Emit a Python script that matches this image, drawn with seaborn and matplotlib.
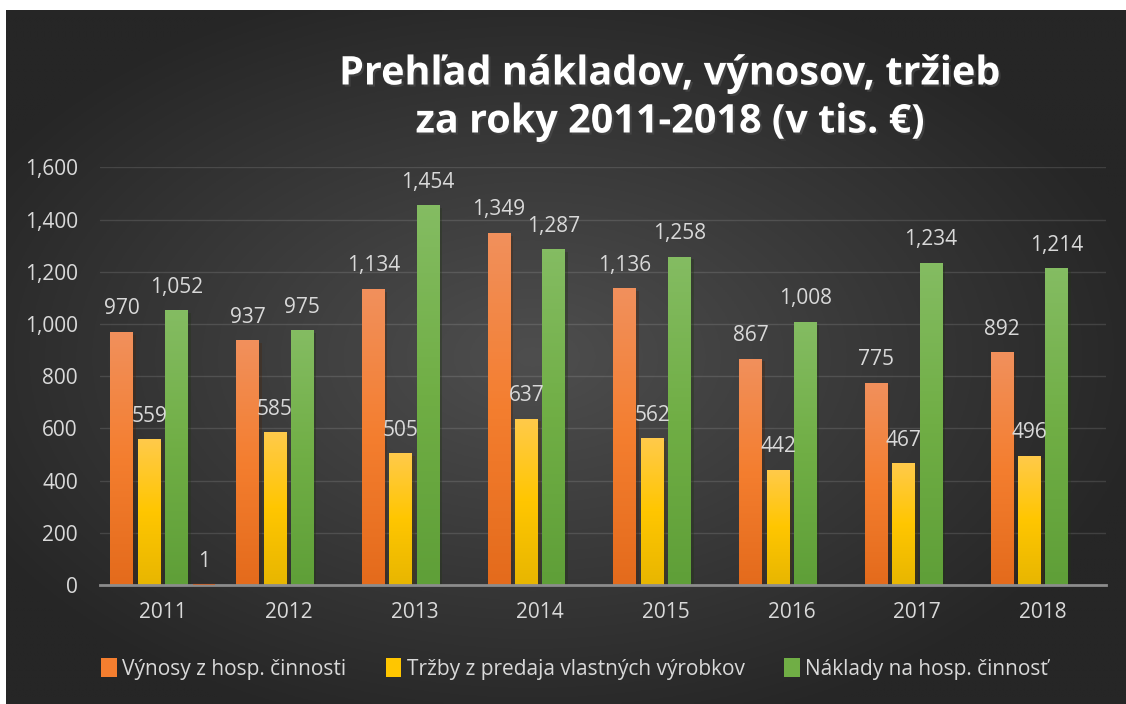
import numpy as np
import pandas as pd
import seaborn as sns
import matplotlib.pyplot as plt
import matplotlib.patheffects as pe
from matplotlib.colors import LinearSegmentedColormap, to_rgb
from matplotlib.patches import Patch

# data (v tis. €)
roky = ['2011', '2012', '2013', '2014', '2015', '2016', '2017', '2018']
vynosy = [970, 937, 1134, 1349, 1136, 867, 775, 892]
trzby = [559, 585, 505, 637, 562, 442, 467, 496]
naklady = [1052, 975, 1454, 1287, 1258, 1008, 1234, 1214]
rad4 = [1, np.nan, np.nan, np.nan, np.nan, np.nan, np.nan, np.nan]

serie = ['Výnosy z hosp. činnosti', 'Tržby z predaja vlastných výrobkov',
         'Náklady na hosp. činnosť', 'Rad4']

df = pd.DataFrame({'rok': roky * 4,
                   'seria': np.repeat(serie, len(roky)),
                   'hodnota': vynosy + trzby + naklady + rad4})

# bottom, middle, top of each bar gradient
farby = {
    serie[0]: ['#e46b1c', '#f47e2f', '#f1905c'],
    serie[1]: ['#e8b600', '#ffc600', '#ffca4a'],
    serie[2]: ['#5f9f38', '#70ae45', '#84bc62'],
    serie[3]: ['#b05a30', '#c0683a', '#c87548'],
}

sns.set_theme(style='dark')
plt.rcParams['font.family'] = ['Open Sans', 'DejaVu Sans']
txt = '#d9d9d9'

fig = plt.figure(figsize=(11.26, 7.04), dpi=100, facecolor='white')

# dark radial background
bg = fig.add_axes([6 / 1126, 0, 1120 / 1126, 694 / 704])
yy, xx = np.mgrid[0:1:300j, 0:1:480j]
r = np.sqrt(((xx - 0.47) / 0.75) ** 2 + ((yy - 0.5) / 0.75) ** 2)
t = np.clip(r / 0.75, 0, 1)[..., None]
c0, c1 = np.array(to_rgb('#4e4e4e')), np.array(to_rgb('#262626'))
bg.imshow(c0 * (1 - t) + c1 * t, aspect='auto', extent=[0, 1, 0, 1])
bg.axis('off')

ax = fig.add_axes([100 / 1126, 1 - 585 / 704, 1006 / 1126, (585 - 167.3) / 704])
ax.set_zorder(1)
ax.patch.set_alpha(0)

sns.barplot(data=df, x='rok', y='hodnota', hue='seria', hue_order=serie,
            palette={s: farby[s][1] for s in serie}, saturation=1,
            width=0.87, gap=0.17, errorbar=None, legend=False, ax=ax,
            linewidth=0, edgecolor='none')

grad = np.linspace(0, 1, 100).reshape(-1, 1)
for cont, s in zip(ax.containers, serie):
    cmap = LinearSegmentedColormap.from_list(s, farby[s])
    for bar in cont:
        x, w, h = bar.get_x(), bar.get_width(), bar.get_height()
        if not np.isfinite(h) or h <= 0:
            continue
        bar.set_linewidth(0)
        if h < 10:
            # very small bar: keep a visible sliver on top of the axis line
            bar.set_edgecolor(farby[s][1])
            bar.set_linewidth(1.5)
            bar.set_zorder(3)
            continue
        bar.set_path_effects([pe.SimplePatchShadow(offset=(2, -2), alpha=0.35), pe.Normal()])
        im = ax.imshow(grad, cmap=cmap, extent=[x, x + w, 0, h], origin='lower',
                       aspect='auto', zorder=bar.get_zorder() + 0.1)
        im.set_clip_path(bar)
    labels = ['' if not np.isfinite(b.get_height()) else f'{b.get_height():,.0f}' for b in cont]
    ax.bar_label(cont, labels=labels, padding=9, color=txt, fontsize=15)

ax.set_xlim(-0.5, 7.5)
ax.set_ylim(0, 1600)
ax.set_yticks(range(0, 1601, 200))
ax.yaxis.set_major_formatter(plt.matplotlib.ticker.StrMethodFormatter('{x:,.0f}'))
ax.set_xlabel('')
ax.set_ylabel('')
ax.grid(axis='y', color='white', alpha=0.12, lw=1)
ax.grid(axis='x', visible=False)
for sp in ['left', 'right', 'top']:
    ax.spines[sp].set_visible(False)
ax.spines['bottom'].set_color('#8c8c8c')
ax.spines['bottom'].set_linewidth(2)
ax.tick_params(axis='y', colors=txt, labelsize=15, length=0, pad=16)
ax.tick_params(axis='x', colors=txt, labelsize=15, length=0, pad=12)

fig.text(670 / 1126, 1 - 98 / 704, 'Prehľad nákladov, výnosov, tržieb\nza roky 2011-2018 (v tis. €)',
         ha='center', va='center', fontsize=28.5, weight='bold', color='white', linespacing=1.3,
         path_effects=[pe.withSimplePatchShadow(offset=(1.5, -1.5), alpha=0.6)])

handles = [Patch(facecolor=farby[s][1], edgecolor='none', label=s) for s in serie[:3]]
fig.legend(handles=handles, loc='center', bbox_to_anchor=(574.5 / 1126, 1 - 669 / 704),
           ncol=3, frameon=False, fontsize=15, labelcolor=txt, handlelength=0.75,
           handleheight=1.0, handletextpad=0.25, columnspacing=1.9)

fig.savefig('out.png', dpi=100)
